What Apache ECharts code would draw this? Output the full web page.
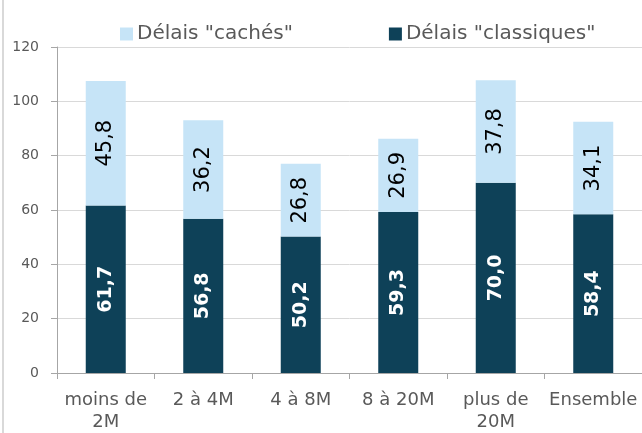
<!DOCTYPE html>
<html><head><meta charset="utf-8">
<script src="https://cdn.jsdelivr.net/npm/echarts@6/dist/echarts.min.js"></script>
<style>html,body{margin:0;padding:0;background:#fff}#c{width:642px;height:433px}</style>
</head><body><div id="c"></div>
<script>
const categories = ['moins de\n2M', '2 à 4M', '4 à 8M', '8 à 20M', 'plus de\n20M', 'Ensemble'];
const classiques = [61.7, 56.8, 50.2, 59.3, 70.0, 58.4];
const caches = [45.8, 36.2, 26.8, 26.9, 37.8, 34.1];
const yTicks = [0, 20, 40, 60, 80, 100, 120];

const fmt = v => v.toFixed(1).replace('.', ',');
const font = '"DejaVu Sans", sans-serif';
const chart = echarts.init(document.getElementById('c'), null, {renderer: 'canvas'});
chart.setOption({
  animation: false,
  graphic: [{type: 'line', shape: {x1: 3, y1: 0, x2: 3, y2: 433}, style: {stroke: '#D9D9D9', lineWidth: 2}}],
  legend: {
    top: 19, left: 115, itemGap: 96, itemWidth: 13, itemHeight: 13,
    icon: 'rect',
    textStyle: {color: '#595959', fontSize: 20, fontFamily: font, padding: [0, 0, 0, -1]},
    data: ['Délais "cachés"', 'Délais "classiques"']
  },
  grid: {left: 57, right: -3, top: 47, bottom: 59},
  xAxis: {
    type: 'category', data: categories,
    axisLine: {lineStyle: {color: '#A6A6A6', width: 1}},
    axisTick: {show: true, length: 6, lineStyle: {color: '#A6A6A6'}},
    axisLabel: {color: '#595959', fontSize: 18, fontFamily: font, margin: 16, lineHeight: 22, interval: 0}
  },
  yAxis: {
    type: 'value', min: yTicks[0], max: yTicks[yTicks.length - 1], interval: 20,
    axisLine: {show: true, lineStyle: {color: '#A6A6A6'}},
    axisTick: {show: true, inside: false, length: 6, lineStyle: {color: '#A6A6A6'}},
    splitLine: {lineStyle: {color: '#D9D9D9'}},
    axisLabel: {color: '#595959', fontSize: 14, fontFamily: font, margin: 18}
  },
  series: [
    {
      name: 'Délais "classiques"', type: 'bar', stack: 't', data: classiques, barWidth: 40,
      itemStyle: {color: '#0E4158'},
      label: {show: true, position: 'inside', rotate: 90, color: '#fff', fontWeight: 'bold', fontSize: 19, fontFamily: font, formatter: p => fmt(p.value)}
    },
    {
      name: 'Délais "cachés"', type: 'bar', stack: 't', data: caches, barWidth: 40,
      itemStyle: {color: '#C6E4F7'},
      label: {show: true, position: 'inside', rotate: 90, color: '#000', fontSize: 21, fontFamily: font, formatter: p => fmt(p.value)}
    }
  ]
});
</script></body></html>
